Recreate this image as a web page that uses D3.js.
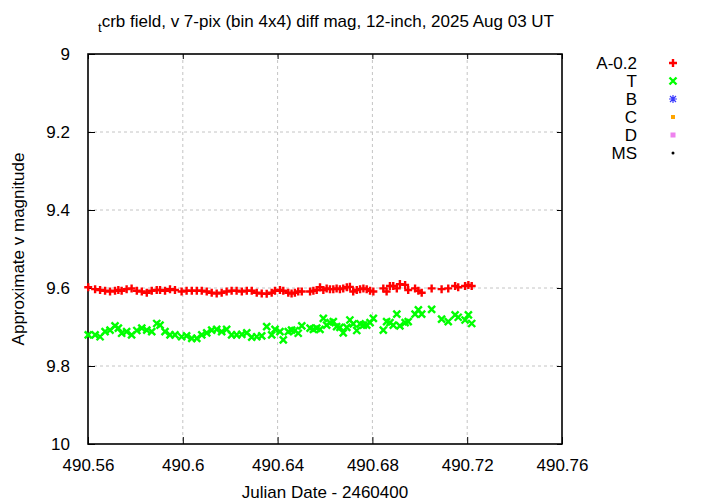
<!DOCTYPE html>
<html><head><meta charset="utf-8">
<script src="https://cdn.jsdelivr.net/npm/d3@7"></script>
<style>
html,body{margin:0;padding:0;background:#fff;}
text{font-family:"Liberation Sans",Arial,Helvetica,sans-serif;fill:#000;}
</style></head>
<body><svg id="c" width="720" height="504"></svg>
<script>
// ---- data (JD - 2460400) ----
const jd = [
490.5601,490.5630,490.5651,490.5672,490.5693,490.5714,490.5728,490.5742,490.5763,490.5784,
490.5806,490.5827,490.5848,490.5869,490.5890,490.5904,490.5925,490.5946,490.5967,490.5995,
490.6016,490.6038,490.6059,490.6080,490.6101,490.6122,490.6143,490.6164,490.6185,490.6206,
490.6227,490.6249,490.6270,490.6291,490.6312,490.6333,490.6354,490.6375,490.6389,490.6410,
490.6424,
490.6445,490.6459,490.6473,490.6487,490.6502,
490.6537,490.6551,490.6565,490.6579,490.6593,490.6607,490.6621,490.6635,490.6649,490.6663,
490.6677,490.6692,490.6705,490.6719,490.6734,490.6748,490.6762,490.6776,490.6790,490.6804,
490.6846,490.6860,490.6874,490.6888,490.6903,490.6916,490.6938,490.6951,490.6980,490.6994,
490.7008,
490.7050,490.7092,490.7120,490.7149,490.7162,490.7191,490.7205,490.7219
];
const magA = [ // A - 0.2
9.598,9.603,9.605,9.607,9.609,9.607,9.605,9.607,9.603,9.601,
9.607,9.609,9.612,9.607,9.605,9.605,9.607,9.603,9.605,9.609,
9.607,9.607,9.607,9.607,9.609,9.612,9.614,9.612,9.609,9.607,
9.607,9.609,9.607,9.607,9.612,9.614,9.615,9.612,9.607,9.605,
9.607,
9.612,9.614,9.612,9.609,9.609,
9.609,9.607,9.605,9.598,9.605,9.601,9.603,9.603,9.601,9.603,
9.601,9.598,9.597,9.609,9.605,9.603,9.601,9.603,9.607,9.609,
9.601,9.609,9.595,9.595,9.601,9.590,9.592,9.605,9.601,9.607,
9.612,
9.601,9.603,9.601,9.595,9.598,9.595,9.592,9.595
];
const magT = [
9.720,9.720,9.725,9.712,9.708,9.697,9.703,9.716,9.712,9.720,
9.709,9.703,9.708,9.712,9.691,9.695,9.712,9.720,9.720,9.725,
9.723,9.729,9.729,9.720,9.715,9.708,9.706,9.712,9.706,9.720,
9.720,9.719,9.715,9.726,9.725,9.723,9.699,9.720,9.706,9.712,
9.733,
9.712,9.708,9.709,9.716,9.697,
9.703,9.706,9.703,9.706,9.678,9.695,9.689,9.686,9.699,9.701,
9.715,9.701,9.682,9.692,9.709,9.692,9.695,9.695,9.689,9.678,
9.708,9.686,9.689,9.695,9.667,9.697,9.689,9.686,9.667,9.656,
9.667,
9.655,9.680,9.686,9.669,9.675,9.682,9.669,9.691
];
const magB = [], magC = [], magD = [], magMS = [];
const seriesNames = ["A-0.2","T","B","C","D","MS"];
const seriesColors = ["#ff0000","#00ff00","#3a3aff","#ffa500","#ee82ee","#000000"];
const xTicks = [490.56,490.6,490.64,490.68,490.72,490.76];
const xTickLabels = ["490.56","490.6","490.64","490.68","490.72","490.76"];
const yTicks = [9,9.2,9.4,9.6,9.8,10];
const yTickLabels = ["9","9.2","9.4","9.6","9.8","10"];
const titleSub = "t";
const titleMain = "crb field, v 7-pix (bin 4x4) diff mag, 12-inch, 2025 Aug 03 UT";
const xTitle = "Julian Date - 2460400";
const yTitle = "Approximate v magnitude";

// ---- layout ----
const L=88, R=562, T=54, B=444;
const svg = d3.select("#c");
const x = d3.scaleLinear().domain([490.56,490.76]).range([L,R]);
const y = d3.scaleLinear().domain([9,10]).range([T,B]);
const FS = 17;

// grid
const g = svg.append("g");
g.selectAll(".gx").data(xTicks.slice(1,-1)).enter().append("line")
 .attr("x1",d=>x(d)).attr("x2",d=>x(d)).attr("y1",T).attr("y2",B)
 .attr("stroke","#c4c4c4").attr("stroke-width",1).attr("stroke-dasharray","3,3");
g.selectAll(".gy").data(yTicks.slice(1,-1)).enter().append("line")
 .attr("y1",d=>y(d)).attr("y2",d=>y(d)).attr("x1",L).attr("x2",R)
 .attr("stroke","#c4c4c4").attr("stroke-width",1).attr("stroke-dasharray","3,3");

// axes with inward ticks
const xAxisB = d3.axisBottom(x).tickValues(xTicks).tickSize(-7).tickFormat((d,i)=>xTickLabels[i]).tickPadding(15);
const xAxisT = d3.axisTop(x).tickValues(xTicks).tickSize(-5).tickFormat("");
const yAxisL = d3.axisLeft(y).tickValues(yTicks).tickSize(-7).tickFormat((d,i)=>yTickLabels[i]).tickPadding(18);
const yAxisR = d3.axisRight(y).tickValues(yTicks).tickSize(-5).tickFormat("");
function styleAxis(sel){
  sel.select(".domain").remove();
  sel.selectAll("line").attr("stroke","#000").attr("stroke-width",1);
  sel.selectAll("text").attr("font-size",FS).attr("font-family","'Liberation Sans',Arial,sans-serif").attr("fill","#000");
}
svg.append("g").attr("transform",`translate(0,${B})`).call(xAxisB).call(styleAxis);
svg.append("g").attr("transform",`translate(0,${T})`).call(xAxisT).call(styleAxis);
svg.append("g").attr("transform",`translate(${L},0)`).call(yAxisL).call(styleAxis);
svg.append("g").attr("transform",`translate(${R},0)`).call(yAxisR).call(styleAxis);

// frame
svg.append("rect").attr("x",L).attr("y",T).attr("width",R-L).attr("height",B-T)
 .attr("fill","none").attr("stroke","#000").attr("stroke-width",1.6);

// markers
function drawMarker(sel, type, color){
  const s=4;
  if(type===0){ // plus
    sel.append("path").attr("d",`M${-s},0H${s}M0,${-s}V${s}`).attr("stroke",color).attr("stroke-width",2.4).attr("fill","none");
  } else if(type===1){ // x
    sel.append("path").attr("d",`M${-s+0.5},${-s+0.5}L${s-0.5},${s-0.5}M${-s+0.5},${s-0.5}L${s-0.5},${-s+0.5}`).attr("stroke",color).attr("stroke-width",2.4).attr("fill","none");
  } else if(type===2){ // asterisk
    sel.append("path").attr("d",`M${-s},0H${s}M0,${-s}V${s}M${-s+1},${-s+1}L${s-1},${s-1}M${-s+1},${s-1}L${s-1},${-s+1}`).attr("stroke",color).attr("stroke-width",1.2).attr("fill","none");
  } else if(type===3){
    sel.append("rect").attr("x",-2).attr("y",-2).attr("width",4).attr("height",4).attr("fill",color);
  } else if(type===4){
    sel.append("rect").attr("x",-2.5).attr("y",-2.5).attr("width",5).attr("height",5).attr("fill",color);
  } else {
    sel.append("circle").attr("r",1.5).attr("fill",color);
  }
}
const seriesData = [magA, magT, magB, magC, magD, magMS];
const plot = svg.append("g");
seriesData.forEach((arr,si)=>{
  arr.forEach((v,i)=>{
    const m = plot.append("g").attr("transform",`translate(${x(jd[i])},${y(v)})`);
    drawMarker(m, si, seriesColors[si]);
  });
});

// legend
const lg = svg.append("g");
seriesNames.forEach((n,i)=>{
  const yy = 63 + i*18;
  lg.append("text").attr("x",637).attr("y",yy).attr("dy","0.35em").attr("text-anchor","end").attr("font-size",FS).text(n);
  const m = lg.append("g").attr("transform",`translate(673,${yy})`);
  drawMarker(m, i, seriesColors[i]);
});

// titles
const tt = svg.append("text").attr("x",326).attr("y",27).attr("text-anchor","middle").attr("font-size",FS);
tt.append("tspan").attr("font-size",13).attr("dy",5).text(titleSub);
tt.append("tspan").attr("dy",-5).text(titleMain);
svg.append("text").attr("x",325).attr("y",498).attr("text-anchor","middle").attr("font-size",FS).text(xTitle);
svg.append("text").attr("transform","translate(24,249) rotate(-90)").attr("text-anchor","middle").attr("font-size",FS).text(yTitle);
</script></body></html>
